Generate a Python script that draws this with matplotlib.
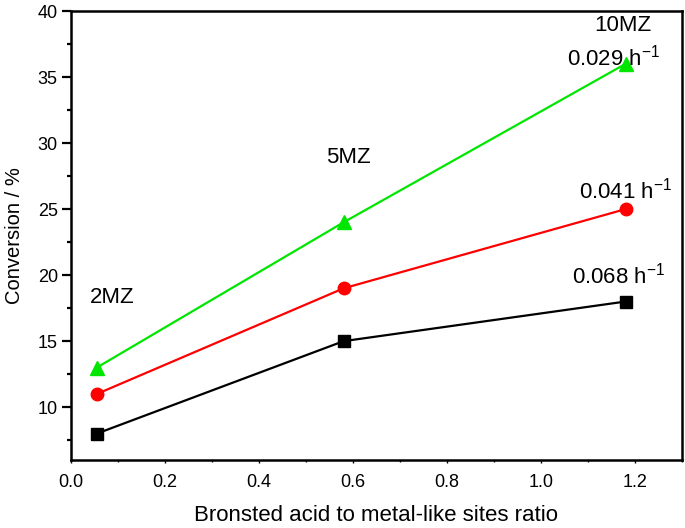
import matplotlib
matplotlib.use("Agg")
import matplotlib.pyplot as plt
from matplotlib.ticker import MultipleLocator

plt.rcParams['font.family'] = ['Liberation Sans', 'DejaVu Sans']
plt.rcParams['mathtext.fontset'] = 'custom'
plt.rcParams['mathtext.rm'] = 'Liberation Sans'
plt.rcParams['mathtext.it'] = 'Liberation Sans'

# datos
ratio = [0.055, 0.58, 1.18]
conv_black = [8, 15, 18]
conv_red = [11, 19, 25]
conv_green = [13, 24, 36]
samples = ["2MZ", "5MZ", "10MZ"]
rates = ["0.068 h$^{\\mathrm{-1}}$", "0.041 h$^{\\mathrm{-1}}$", "0.029 h$^{\\mathrm{-1}}$"]

fig = plt.figure(figsize=(6.85, 5.28), dpi=100)
ax = fig.add_axes([71 / 685, 68 / 528, 611 / 685, 449 / 528])

ax.plot(ratio, conv_black, color='black', lw=1.6, marker='s', ms=8)
ax.plot(ratio, conv_red, color='red', lw=1.6, marker='o', ms=9)
ax.plot(ratio, conv_green, color='#00e600', lw=1.6, marker='^', ms=10)

# etiquetas de muestras
ax.text(0.087, 18.3, samples[0], fontsize=16, ha='center', va='center')
ax.text(0.59, 28.9, samples[1], fontsize=16, ha='center', va='center')
ax.text(1.175, 38.9, samples[2], fontsize=16, ha='center', va='center')

# constantes de velocidad
ax.text(1.155, 36.5, rates[2], fontsize=16, ha='center', va='center')
ax.text(1.18, 26.4, rates[1], fontsize=16, ha='center', va='center')
ax.text(1.165, 20.0, rates[0], fontsize=16, ha='center', va='center')

ax.set_xlim(0, 1.3)
ax.set_ylim(6, 40)
ax.xaxis.set_major_locator(MultipleLocator(0.2))
ax.xaxis.set_minor_locator(MultipleLocator(0.1))
ax.yaxis.set_major_locator(MultipleLocator(5))
ax.yaxis.set_minor_locator(MultipleLocator(2.5))
ax.tick_params(axis='y', which='major', length=6.5, width=1.6, labelsize=13, pad=3)
ax.tick_params(axis='y', which='minor', length=3, width=1.6)
ax.tick_params(axis='x', which='major', length=2, width=1.0, labelsize=13, pad=8)
ax.tick_params(axis='x', which='minor', length=1.5, width=1.0)
for s in ax.spines.values():
    s.set_linewidth(1.8)

ax.set_xlabel("Bronsted acid to metal-like sites ratio", fontsize=16, labelpad=10)
ax.set_ylabel("Conversion / %", fontsize=14.5, labelpad=10)

fig.savefig("out.png", dpi=100)
